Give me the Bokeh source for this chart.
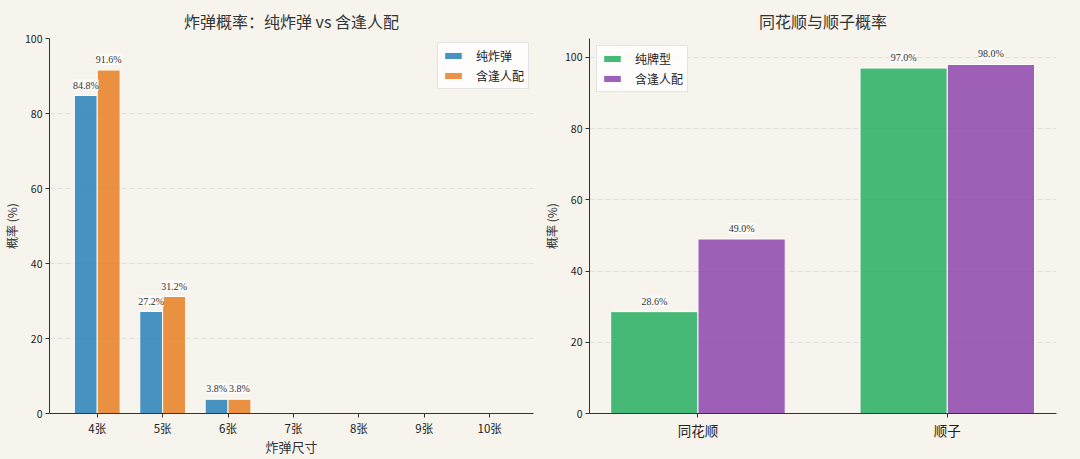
from bokeh.plotting import figure
from bokeh.models import Range1d, FixedTicker, ColumnDataSource, LabelSet, Legend, LegendItem
from bokeh.layouts import row
from bokeh.embed import file_html
from bokeh.resources import INLINE

# ---- data ----
bomb_sizes = ["4张", "5张", "6张", "7张", "8张", "9张", "10张"]
pure_bomb = [84.8, 27.2, 3.8, 0.1, 0.0, 0.0, 0.0]
wild_bomb = [91.6, 31.2, 3.8, 0.1, 0.0, 0.0, 0.0]

hand_types = ["同花顺", "顺子"]
pure_hand = [28.6, 97.0]
wild_hand = [49.0, 98.0]

left_series = ["纯炸弹", "含逢人配"]
right_series = ["纯牌型", "含逢人配"]
y_ticks = [0, 20, 40, 60, 80, 100]

BG = "#f7f4ee"
FONT = "Noto Sans CJK SC"
C_BLUE = "#2980b9"
C_ORANGE = "#e67e22"
C_GREEN = "#27ae60"
C_PURPLE = "#8e44ad"
W = 0.35


def base_fig(title, xr, yr, mb):
    p = figure(width=540, height=459, x_range=xr, y_range=yr,
               output_backend="svg", toolbar_location=None,
               min_border_left=mb[0], min_border_right=mb[1],
               min_border_top=mb[2], min_border_bottom=mb[3])
    p.background_fill_color = BG
    p.border_fill_color = BG
    p.outline_line_color = None
    p.title.text = title
    p.title.align = "center"
    p.title.text_font = FONT
    p.title.text_font_size = "16px"
    p.title.text_font_style = "normal"
    p.title.text_color = "#333333"
    p.title.standoff = 12
    p.xgrid.grid_line_color = None
    p.ygrid.grid_line_color = "#d9d9d9"
    p.ygrid.grid_line_dash = "5 3"
    p.ygrid.grid_line_alpha = 0.8
    for ax in (p.xaxis[0], p.yaxis[0]):
        ax.axis_line_color = "#333333"
        ax.major_tick_line_color = "#333333"
        ax.minor_tick_line_color = None
        ax.major_tick_in = 0
        ax.major_tick_out = 4
        ax.major_label_text_font = FONT
        ax.major_label_text_color = "#222222"
        ax.axis_label_text_font = FONT
        ax.axis_label_text_font_style = "normal"
        ax.axis_label_text_color = "#333333"
    p.yaxis[0].major_label_text_font_size = "10.5px"
    p.yaxis[0].major_label_standoff = 3
    p.yaxis[0].axis_label = "概率 (%)"
    p.yaxis[0].axis_label_text_font_size = "12px"
    p.yaxis[0].axis_label_standoff = 2
    p.yaxis[0].ticker = FixedTicker(ticks=y_ticks)
    p.xaxis[0].major_label_standoff = 2
    return p


def add_labels(p, xs, ys):
    keep = [(x, y) for x, y in zip(xs, ys) if y >= 1]
    src = ColumnDataSource(dict(x=[k[0] for k in keep], y=[k[1] for k in keep],
                                t=["%.1f%%" % k[1] for k in keep]))
    ls = LabelSet(x="x", y="y", text="t", source=src, text_align="center",
                  text_baseline="bottom", y_offset=5, text_font=FONT,
                  text_font_size="10px", text_color="#333333",
                  background_fill_color="white", background_fill_alpha=0.7)
    p.add_layout(ls)


def style_legend(p, items, loc, margin):
    lg = Legend(items=items, location=loc, margin=margin)
    lg.label_text_font = FONT
    lg.label_text_font_size = "12px"
    lg.label_text_color = "#222222"
    lg.label_height = 16
    lg.glyph_width = 22
    lg.glyph_height = 9
    lg.spacing = 3
    lg.padding = 4
    lg.label_standoff = 12
    lg.border_line_color = "#cccccc"
    lg.background_fill_color = "white"
    lg.background_fill_alpha = 0.8
    p.add_layout(lg)


# ---- left chart ----
n = len(bomb_sizes)
xs = list(range(n))
p1 = base_fig("炸弹概率：纯炸弹 vs 含逢人配", Range1d(-0.73, 6.67), Range1d(0, 100),
              (48, 7, 38, 46))
x_a = [x - W / 2 for x in xs]
x_b = [x + W / 2 for x in xs]
r1 = p1.vbar(x=x_a, top=pure_bomb, width=W, fill_color=C_BLUE, fill_alpha=0.85,
             line_color="white", line_width=1)
r2 = p1.vbar(x=x_b, top=wild_bomb, width=W, fill_color=C_ORANGE, fill_alpha=0.85,
             line_color="white", line_width=1)
p1.xaxis[0].ticker = FixedTicker(ticks=xs)
p1.xaxis[0].major_label_overrides = {i: s for i, s in enumerate(bomb_sizes)}
p1.xaxis[0].major_label_text_font_size = "11.5px"
p1.xaxis[0].axis_label = "炸弹尺寸"
p1.xaxis[0].axis_label_text_font_size = "13px"
p1.xaxis[0].axis_label_standoff = -2
add_labels(p1, x_a, pure_bomb)
add_labels(p1, x_b, wild_bomb)
style_legend(p1, [LegendItem(label=left_series[0], renderers=[r1]),
                  LegendItem(label=left_series[1], renderers=[r2])], "top_right", 4)

# ---- right chart ----
m = len(hand_types)
xs2 = list(range(m))
p2 = base_fig("同花顺与顺子概率", Range1d(-0.435, 1.438), Range1d(0, 105.3),
              (47, 24, 37, 46))
x2a = [x - W / 2 for x in xs2]
x2b = [x + W / 2 for x in xs2]
r3 = p2.vbar(x=x2a, top=pure_hand, width=W, fill_color=C_GREEN, fill_alpha=0.85,
             line_color="white", line_width=1)
r4 = p2.vbar(x=x2b, top=wild_hand, width=W, fill_color=C_PURPLE, fill_alpha=0.85,
             line_color="white", line_width=1)
p2.xaxis[0].ticker = FixedTicker(ticks=xs2)
p2.xaxis[0].major_label_overrides = {i: s for i, s in enumerate(hand_types)}
p2.xaxis[0].major_label_text_font_size = "13.5px"
add_labels(p2, x2a, pure_hand)
add_labels(p2, x2b, wild_hand)
style_legend(p2, [LegendItem(label=right_series[0], renderers=[r3]),
                  LegendItem(label=right_series[1], renderers=[r4])], "top_left", 7)

layout = row(p1, p2)
layout.styles = {"background-color": BG}
open("out.html", "w").write(file_html(layout, INLINE))
